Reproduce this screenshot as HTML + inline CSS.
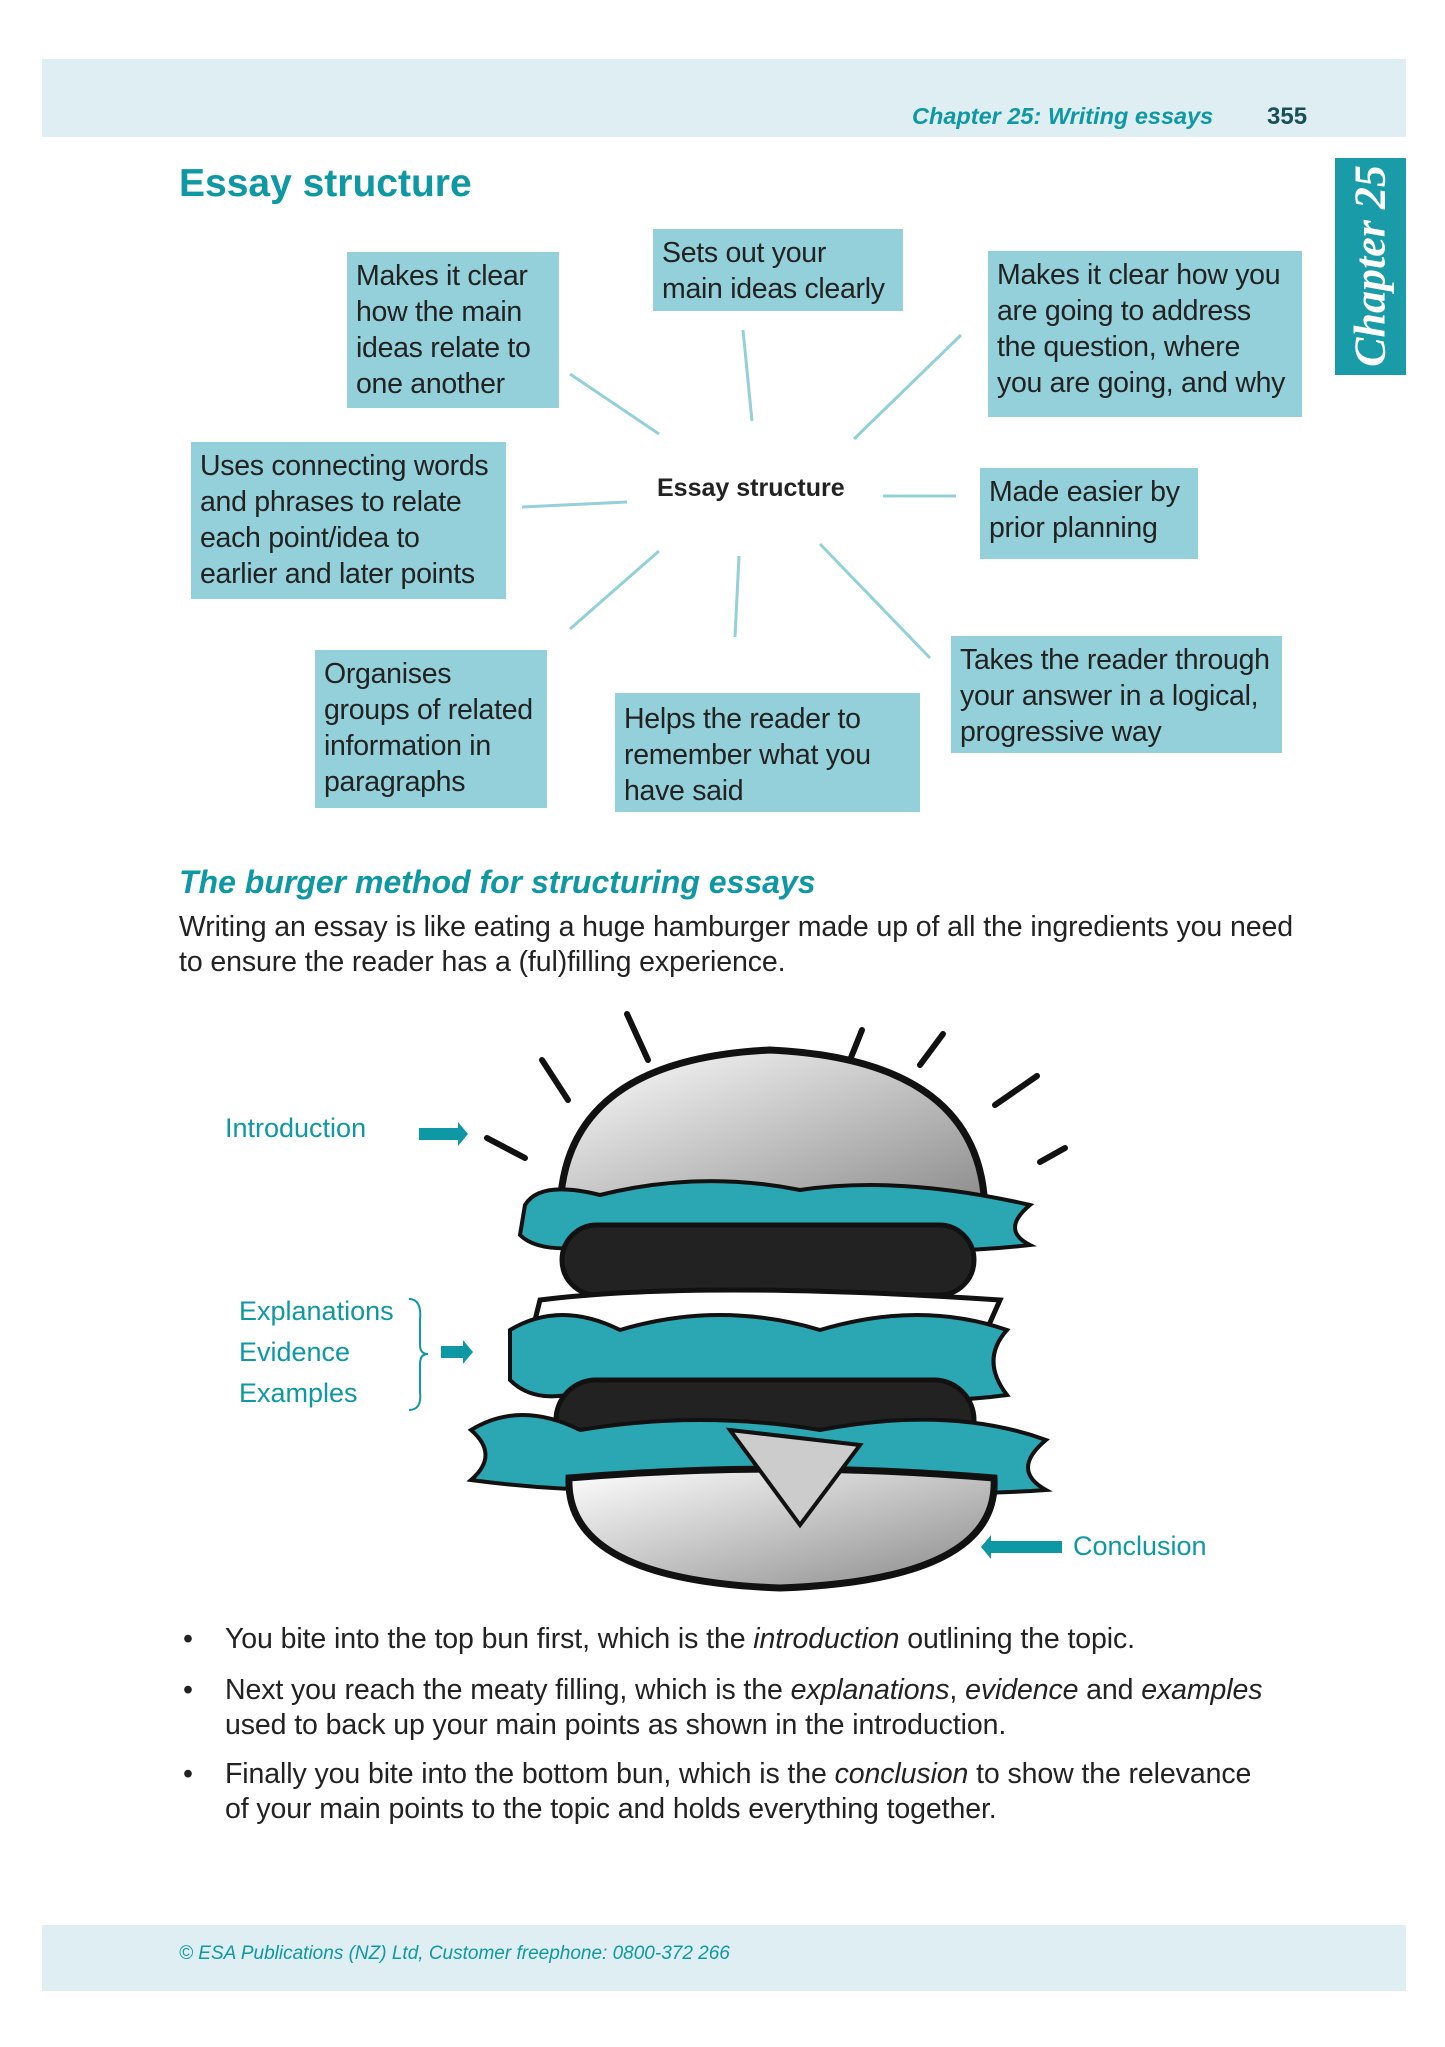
<!DOCTYPE html>
<html><head><meta charset="utf-8"><style>
body{margin:0;width:1445px;height:2047px;position:relative;background:#fff;font-family:"Liberation Sans",sans-serif;overflow:hidden}
.a{position:absolute}
.box{position:absolute;background:#93d0da;color:#222;font-size:28.5px;line-height:36px;padding:6px 9px;box-sizing:border-box;white-space:nowrap;letter-spacing:-0.3px}
.t{color:#0e98a3}
.p{font-size:28.5px;color:#222;line-height:35px;white-space:nowrap;letter-spacing:-0.1px}
</style></head><body>
<div class="a" style="left:42px;top:59px;width:1364px;height:78px;background:#dfeef2"></div>
<div class="a t" style="left:912px;top:103px;font-size:23.5px;font-style:italic;font-weight:bold">Chapter 25: Writing essays</div>
<div class="a" style="left:1267px;top:103px;font-size:24px;font-weight:bold;color:#1a4f58">355</div>
<div class="a" style="left:1335px;top:158px;width:71px;height:217px;background:#1a9ba8"></div>
<div class="a" style="left:1370px;top:266px;transform:translate(-50%,-50%) rotate(-90deg);color:#fff;font-family:'Liberation Serif',serif;font-style:italic;font-weight:bold;font-size:44px;white-space:nowrap">Chapter 25</div>
<div class="a t" style="left:179px;top:162px;font-size:39px;font-weight:bold">Essay structure</div>

<div class="box" style="left:347px;top:252px;width:212px;height:156px">Makes it clear<br>how the main<br>ideas relate to<br>one another</div>
<div class="box" style="left:653px;top:229px;width:250px;height:82px">Sets out your<br>main ideas clearly</div>
<div class="box" style="left:988px;top:251px;width:314px;height:166px">Makes it clear how you<br>are going to address<br>the question, where<br>you are going, and why</div>
<div class="box" style="left:191px;top:442px;width:315px;height:157px">Uses connecting words<br>and phrases to relate<br>each point/idea to<br>earlier and later points</div>
<div class="box" style="left:980px;top:468px;width:218px;height:91px">Made easier by<br>prior planning</div>
<div class="box" style="left:315px;top:650px;width:232px;height:158px">Organises<br>groups of related<br>information in<br>paragraphs</div>
<div class="box" style="left:615px;top:693px;width:305px;height:119px;padding-top:8px">Helps the reader to<br>remember what you<br>have said</div>
<div class="box" style="left:951px;top:636px;width:331px;height:117px">Takes the reader through<br>your answer in a logical,<br>progressive way</div>
<div class="a" style="left:657px;top:474px;font-size:25px;font-weight:bold;color:#222">Essay structure</div>
<svg class="a" style="left:0;top:0" width="1445" height="900"><g stroke="#93d0da" stroke-width="3">
<line x1="570" y1="374" x2="659" y2="434"/><line x1="743" y1="330" x2="752" y2="421"/><line x1="961" y1="335" x2="854" y2="439"/><line x1="522" y1="507" x2="627" y2="502"/><line x1="883" y1="496" x2="956" y2="496"/><line x1="659" y1="551" x2="570" y2="629"/><line x1="739" y1="556" x2="735" y2="637"/><line x1="820" y1="544" x2="930" y2="658"/></g></svg>

<div class="a t" style="left:179px;top:864px;font-size:32px;font-weight:bold;font-style:italic">The burger method for structuring essays</div>
<div class="a p" style="left:179px;top:910px">Writing an essay is like eating a huge hamburger made up of all the ingredients you need<br>to ensure the reader has a (ful)filling experience.</div>

<svg class="a" style="left:0;top:1000px" width="1445" height="600">
<defs><linearGradient id="g" x1="0" y1="0" x2="1" y2="1"><stop offset="0" stop-color="#fff"/><stop offset="1" stop-color="#888"/></linearGradient></defs>
<g stroke="#111" stroke-width="6" stroke-linecap="round">
<line x1="627" y1="14" x2="648" y2="60"/><line x1="542" y1="60" x2="568" y2="100"/><line x1="487" y1="138" x2="525" y2="158"/><line x1="862" y1="30" x2="850" y2="60"/><line x1="943" y1="34" x2="920" y2="65"/><line x1="1037" y1="76" x2="995" y2="105"/><line x1="1065" y1="148" x2="1040" y2="162"/></g>
<path d="M560 215 Q560 60 770 50 Q985 60 985 215 Z" fill="url(#g)" stroke="#111" stroke-width="7"/>
<path d="M525 205 Q540 180 600 195 Q700 170 800 190 Q900 175 1030 205 Q1000 230 1030 245 Q900 260 800 235 Q700 260 600 245 Q540 255 520 235 Z" fill="#2aa7b3" stroke="#111" stroke-width="4"/>
<rect x="562" y="225" width="412" height="70" rx="35" fill="#222" stroke="#111" stroke-width="5"/>
<path d="M540 300 Q700 280 1000 300 L980 345 Q700 360 530 340 Z" fill="#fff" stroke="#111" stroke-width="5"/>
<path d="M510 330 Q560 300 620 330 Q720 300 820 330 Q920 300 1007 330 Q980 360 1007 395 Q900 410 800 380 Q700 410 600 385 Q540 410 510 380 Z" fill="#2aa7b3" stroke="#111" stroke-width="4"/>
<rect x="556" y="380" width="418" height="90" rx="40" fill="#222" stroke="#111" stroke-width="5"/>
<path d="M471 430 Q520 400 580 430 Q700 410 820 430 Q950 405 1046 440 Q1010 470 1046 490 Q900 500 760 480 Q620 500 471 480 Q500 455 471 430 Z" fill="#2aa7b3" stroke="#111" stroke-width="4"/>
<path d="M569 478 Q780 460 994 478 Q1000 580 780 588 Q565 580 569 478 Z" fill="url(#g)" stroke="#111" stroke-width="7"/>
<path d="M730 430 L860 445 L800 525 Z" fill="#ccc" stroke="#111" stroke-width="4"/>
<g fill="#0e98a3"><polygon points="419,128 458,128 458,122 468,134 458,146 458,140 419,140"/><polygon points="441,346 463,346 463,340 473,352 463,364 463,358 441,358"/><polygon points="1062,541 991,541 991,535 981,547 991,559 991,553 1062,553"/></g>
<path d="M409 299 Q422 299 420 320 L420 345 Q420 354 428 354 Q420 354 420 364 L420 392 Q422 410 409 410" fill="none" stroke="#0e98a3" stroke-width="2"/>
</svg>
<div class="a t" style="left:225px;top:1113px;font-size:27px">Introduction</div>
<div class="a t" style="left:239px;top:1291px;font-size:27px;line-height:41px">Explanations<br>Evidence<br>Examples</div>
<div class="a t" style="left:1073px;top:1531px;font-size:27px">Conclusion</div>

<div class="a p" style="left:183px;top:1622px">•</div>
<div class="a p" style="left:225px;top:1622px">You bite into the top bun first, which is the <i>introduction</i> outlining the topic.</div>
<div class="a p" style="left:183px;top:1673px">•</div>
<div class="a p" style="left:225px;top:1673px">Next you reach the meaty filling, which is the <i>explanations</i>, <i>evidence</i> and <i>examples</i><br>used to back up your main points as shown in the introduction.</div>
<div class="a p" style="left:183px;top:1757px">•</div>
<div class="a p" style="left:225px;top:1757px">Finally you bite into the bottom bun, which is the <i>conclusion</i> to show the relevance<br>of your main points to the topic and holds everything together.</div>

<div class="a" style="left:42px;top:1925px;width:1364px;height:66px;background:#dfeef2"></div>
<div class="a t" style="left:179px;top:1943px;font-size:19px;font-style:italic">© ESA Publications (NZ) Ltd, Customer freephone: 0800-372 266</div>
</body></html>
